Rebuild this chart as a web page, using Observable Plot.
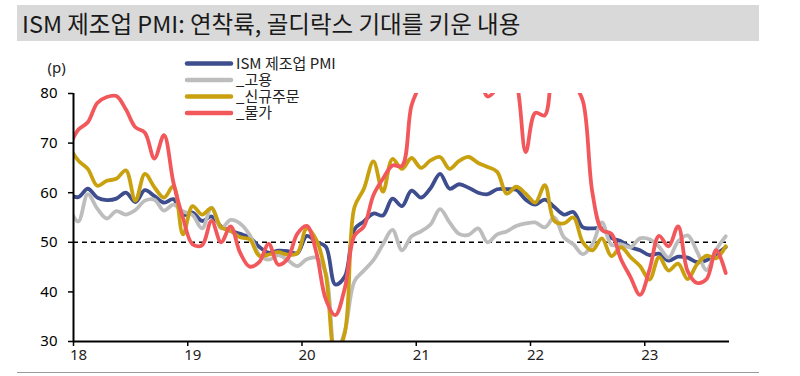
<!DOCTYPE html>
<html>
<head>
<meta charset="utf-8">
<script src="https://cdn.jsdelivr.net/npm/d3@7"></script>
<script src="https://cdn.jsdelivr.net/npm/@observablehq/plot@0.6"></script>
<style>
  html, body { margin: 0; padding: 0; background: #fff; }
  body { width: 800px; height: 376px; position: relative; overflow: hidden; font-family: "Noto Sans CJK KR", "Noto Sans", sans-serif; }
  #titlewrap { height: 50px; position: relative; }
  #title { position: absolute; left: 17px; top: 5px; width: 737px; height: 36px; background: #d9d9d9;
           font-family: "Noto Sans CJK KR", sans-serif; font-size: 23.5px; line-height: 36px; color: #1a1a1a; padding-left: 5px; }
  #bottomline { position: absolute; left: 17px; top: 372px; width: 742px; height: 1px; background: #9a9a9a; }
</style>
</head>
<body>
<div id="titlewrap"><div id="title">ISM 제조업 PMI: 연착륙, 골디락스 기대를 키운 내용</div></div>
<div id="chart"></div>
<div id="bottomline"></div>
<script>
// Months: index -1 = Dec 2017, 0 = Jan 2018 ... 68 = Sep 2023
const monthIndex = d3.range(-1, 69);
const pmi = [59.7,
  59.1, 60.8, 59.0, 58.5, 58.8, 60.0, 58.1, 60.5, 59.3, 58.0, 58.7, 55.5,
  56.0, 54.3, 55.2, 53.2, 52.3, 51.7, 51.0, 49.1, 47.9, 48.3, 48.2, 47.8,
  51.3, 50.1, 49.1, 41.5, 43.1, 52.6, 54.2, 55.8, 55.4, 58.8, 57.3, 60.4,
  59.0, 60.9, 63.8, 60.8, 61.7, 61.0, 60.0, 59.7, 60.7, 60.7, 60.6, 58.6,
  57.6, 58.6, 57.1, 55.6, 56.1, 53.0, 52.8, 52.8, 50.9, 50.2, 49.0, 48.4,
  47.4, 47.7, 46.3, 47.1, 46.9, 46.0, 46.4, 47.6, 49.0];
const employment = [57.0,
  54.2, 59.7, 56.8, 54.8, 56.3, 55.6, 56.5, 58.4, 58.6, 56.4, 57.6, 56.2,
  55.5, 52.8, 57.0, 52.8, 54.5, 53.8, 51.5, 47.5, 46.5, 47.4, 46.4, 45.2,
  46.6, 46.9, 43.8, 27.5, 32.1, 42.1, 44.3, 46.4, 49.6, 52.5, 48.4, 51.2,
  52.2, 53.6, 56.7, 54.0, 51.7, 51.5, 52.8, 50.0, 51.6, 52.2, 53.3, 53.8,
  54.0, 53.0, 55.0, 51.0, 49.6, 47.6, 49.6, 54.0, 49.5, 49.6, 49.0, 50.8,
  50.6, 49.1, 46.9, 50.2, 51.4, 48.1, 44.4, 48.5, 51.2];
const newOrders = [69.4,
  66.5, 64.8, 61.4, 62.4, 62.8, 64.5, 58.4, 63.8, 61.1, 59.0, 61.3, 51.6,
  57.3, 55.6, 56.9, 53.0, 52.3, 51.0, 50.6, 47.3, 47.5, 48.0, 47.5, 47.8,
  52.8, 50.5, 43.5, 27.1, 31.8, 57.0, 60.8, 66.3, 60.2, 66.8, 64.8, 67.0,
  65.0, 66.5, 67.2, 64.8, 66.4, 67.2, 66.0, 65.2, 64.2, 59.8, 61.2, 59.8,
  58.0, 61.5, 54.3, 53.8, 55.0, 50.0, 48.4, 50.8, 47.2, 49.0, 47.0, 45.2,
  42.5, 47.0, 44.3, 45.7, 42.6, 45.6, 47.3, 46.8, 49.2];
const prices = [69.0,
  72.7, 74.2, 78.1, 79.3, 79.5, 76.8, 73.2, 72.1, 66.9, 71.6, 62.0, 54.9,
  49.6, 49.4, 54.3, 50.0, 53.2, 47.9, 45.1, 46.0, 49.7, 45.5, 46.7, 51.7,
  53.3, 48.0, 38.5, 35.3, 40.8, 51.3, 53.2, 59.5, 62.8, 65.5, 65.4, 77.6,
  82.1, 86.0, 85.6, 89.6, 88.0, 92.1, 85.7, 79.4, 81.2, 85.7, 82.4, 68.2,
  76.1, 75.6, 87.1, 84.6, 82.2, 78.5, 60.0, 52.5, 51.7, 46.6, 43.0, 39.4,
  44.5, 51.3, 49.2, 53.2, 44.2, 41.8, 42.6, 48.4, 43.8];

const seriesNames = ["ISM 제조업 PMI", "_고용", "_신규주문", "_물가"];
const seriesColors = ["#3d4d8e", "#bdbdbd", "#c9a10f", "#f2585b"];
const seriesValues = [pmi, employment, newOrders, prices];
const xTicks = [0, 12, 24, 36, 48, 60];
const xTickLabels = ["18", "19", "20", "21", "22", "23"];
const yTicks = [30, 40, 50, 60, 70, 80];

const rows = [];
seriesNames.forEach((name, s) => {
  monthIndex.forEach((m, i) => rows.push({series: name, x: m + 0.5, value: seriesValues[s][i]}));
});

const lineMarks = seriesNames.map((name, s) =>
  Plot.line(rows.filter(d => d.series === name), {
    x: "x", y: "value", stroke: seriesColors[s], strokeWidth: 3.8,
    curve: "catmull-rom", clip: true, strokeLinejoin: "round"
  })
);

const chart = Plot.plot({
  width: 800,
  height: 326,
  marginLeft: 73,
  marginRight: 71,
  marginTop: 43,
  marginBottom: 35,
  style: {fontFamily: "'Noto Sans', 'Noto Sans CJK KR', sans-serif", fontSize: "15px", color: "#000", background: "#fff"},
  x: {domain: [0, 68.9], axis: null},
  y: {domain: [30, 80], axis: null},
  marks: [
    Plot.axisY({ticks: yTicks, tickSize: 5, tickPadding: 11, fontSize: 15, label: null, color: "#000", strokeWidth: 1.5}),
    Plot.axisX({ticks: xTicks, tickSize: 5, text: null, label: null, strokeWidth: 1.5}),
    Plot.text(xTicks, {x: d => d, text: (d, i) => xTickLabels[i], frameAnchor: "bottom", dy: 18, dx: 5, fontSize: 15, fill: "#222"}),
    Plot.ruleY([50], {stroke: "#000", strokeWidth: 1.5, strokeDasharray: "5,4"}),
    ...lineMarks,
    Plot.ruleX([0], {stroke: "#000", strokeWidth: 2}),
    Plot.ruleY([30], {stroke: "#000", strokeWidth: 2}),
    Plot.text(["(p)"], {frameAnchor: "top-left", dx: -26, dy: -31, fontSize: 15, fill: "#222"})
  ]
});

// legend inside the chart area
const svg = d3.select(chart);
const lg = svg.append("g")
  .attr("font-family", "'Noto Sans CJK KR', sans-serif")
  .attr("font-size", 15)
  .attr("text-anchor", "start");
const legendY = [13.5, 30, 46.5, 63];
seriesNames.forEach((name, s) => {
  lg.append("line").attr("x1", 187).attr("x2", 231).attr("y1", legendY[s]).attr("y2", legendY[s])
    .attr("stroke", seriesColors[s]).attr("stroke-width", 4.5).attr("stroke-linecap", "round");
  lg.append("text").attr("x", 236).attr("y", legendY[s]).attr("dy", "0.35em")
    .attr("text-anchor", "start").attr("fill", "#222").text(name);
});

document.getElementById("chart").appendChild(chart);
</script>
</body>
</html>
